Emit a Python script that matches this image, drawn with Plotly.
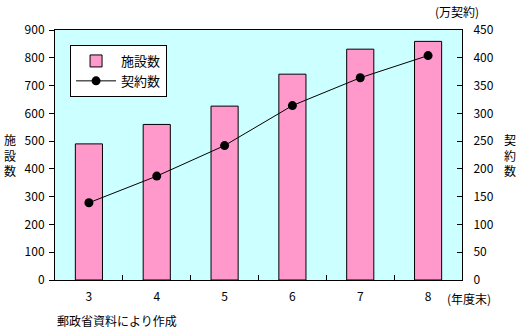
import plotly.graph_objects as go

years = ["3", "4", "5", "6", "7", "8"]
facilities = [490, 560, 626, 741, 831, 859]
contracts = [139, 187, 242, 314, 364, 404]

FONT = "Noto Sans CJK JP"

fig = go.Figure()
fig.add_trace(go.Bar(
    x=years, y=facilities, name="施設数",
    marker=dict(color="#FF99CC", line=dict(color="black", width=1)),
    width=0.4, yaxis="y",
))
fig.add_trace(go.Scatter(
    x=years, y=contracts, name="契約数", mode="lines+markers",
    line=dict(color="black", width=1),
    marker=dict(color="black", size=9),
    yaxis="y2",
))

fig.update_layout(
    width=517, height=331,
    margin=dict(l=55, r=55, t=30, b=51),
    paper_bgcolor="white", plot_bgcolor="#CCFFFF",
    font=dict(family=FONT, size=12, color="black"),
    showlegend=True,
    legend=dict(x=0.037, y=0.94, xanchor="left", yanchor="top",
                bgcolor="white", bordercolor="black", borderwidth=1,
                font=dict(size=13), itemwidth=40),
    xaxis=dict(type="category", showline=True, linecolor="black", linewidth=1,
               mirror=True, ticks="inside", tickson="boundaries", ticklen=5,
               tickcolor="black", showgrid=False, ticklabelstandoff=6),
    yaxis=dict(range=[0, 900], dtick=100, showline=True, linecolor="black",
               linewidth=1, ticks="outside", ticklen=5, tickcolor="black",
               showgrid=False, zeroline=False, ticklabelstandoff=2),
    yaxis2=dict(range=[0, 450], dtick=50, overlaying="y", side="right",
                showline=True, linecolor="black", linewidth=1, ticks="inside",
                ticklen=5, tickcolor="black", showgrid=False, zeroline=False,
                ticklabelstandoff=8),
    bargap=0.6,
)

ann = [
    dict(text="施<br>設<br>数", x=2, y=155, xanchor="left"),
    dict(text="契<br>約<br>数", x=502, y=155, xanchor="left"),
    dict(text="(万契約)", x=433, y=12, xanchor="left"),
    dict(text="(年度末)", x=445, y=298, xanchor="left"),
    dict(text="郵政省資料により作成", x=55, y=320, xanchor="left"),
]
for a in ann:
    fig.add_annotation(
        text=a["text"], xref="paper", yref="paper",
        x=(a["x"] - 55) / 407, y=(280 - a["y"]) / 250,
        xanchor=a["xanchor"], yanchor="middle", showarrow=False,
        font=dict(family=FONT, size=12), align="left",
    )

fig.write_html("out.html")
